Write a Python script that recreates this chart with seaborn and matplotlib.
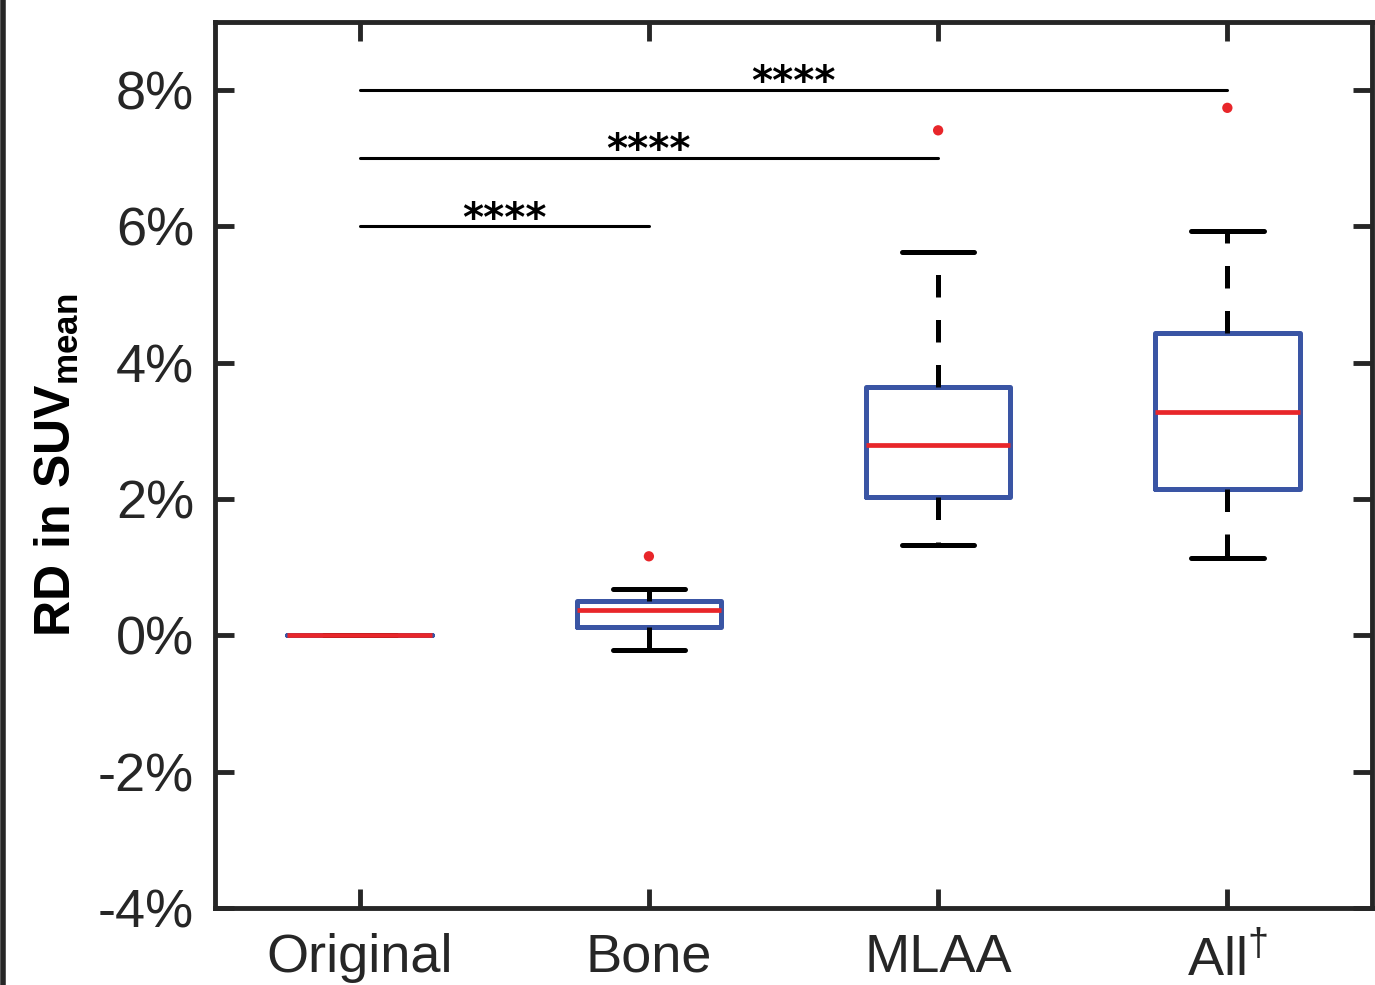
import matplotlib
matplotlib.use("Agg")
import matplotlib.pyplot as plt
from matplotlib.lines import Line2D
import seaborn as sns
import pandas as pd

# ---- data (percent) ----
categories = ["Original", "Bone", "MLAA", "All$^{\\dagger}$"]
q1 = [0.0, 0.12, 2.03, 2.15]
medians = [0.0, 0.37, 2.79, 3.28]
q3 = [0.0, 0.51, 3.65, 4.44]
whisker_low = [0.0, -0.22, 1.32, 1.13]
whisker_high = [0.0, 0.68, 5.63, 5.93]
outlier_group = [2, 3, 4]
outlier_values = [1.16, 7.41, 7.74]
sig_pairs = [(1, 2), (1, 3), (1, 4)]
sig_levels = [6.0, 7.0, 8.0]
sig_labels = ["****", "****", "****"]
yticks = [-4, -2, 0, 2, 4, 6, 8]
ytick_labels = ["-4%", "-2%", "0%", "2%", "4%", "6%", "8%"]

sns.set_style("ticks")
plt.rcParams["font.family"] = ["Liberation Sans", "DejaVu Sans"]
plt.rcParams["mathtext.fontset"] = "custom"
plt.rcParams["mathtext.rm"] = "Liberation Sans"
plt.rcParams["mathtext.bf"] = "Liberation Sans:bold"

DARK = "#262626"
BLUE = "#3a55a4"
RED = "#e8262a"

fig = plt.figure(figsize=(13.75, 9.85), dpi=100)
ax = fig.add_axes([0.1564, 0.0782, 0.8414, 0.8995])

positions = list(range(1, len(categories) + 1))
stats = []
for i in range(len(categories)):
    stats.append(dict(med=medians[i], q1=q1[i], q3=q3[i],
                      whislo=whisker_low[i], whishi=whisker_high[i], fliers=[]))

ax.bxp(stats, positions=positions, widths=0.5, capwidths=0.25, showfliers=False,
       boxprops=dict(color=BLUE, linewidth=3.6),
       whiskerprops=dict(color="black", linewidth=3.6, linestyle=(0, (4.5, 4.5))),
       capprops=dict(color="black", linewidth=3.6),
       medianprops=dict(color=RED, linewidth=3.4, solid_capstyle="butt"))

out_df = pd.DataFrame({"group": outlier_group, "value": outlier_values})
sns.scatterplot(data=out_df, x="group", y="value", ax=ax, color=RED, s=55,
                edgecolor="none", zorder=5)

for (a, b), lvl, lab in zip(sig_pairs, sig_levels, sig_labels):
    ax.plot([a, b], [lvl, lvl], color="black", linewidth=2.2)
    ax.text((a + b) / 2, lvl + 0.1, lab, ha="center", va="center",
            fontsize=29, fontweight="bold", color="black",
            family="DejaVu Sans")

ax.set_xlim(0.5, 4.5)
ax.set_ylim(-4, 9)
ax.set_xticks(positions)
ax.set_xticklabels(categories, fontsize=39, color=DARK)
ax.set_yticks(yticks)
ax.set_yticklabels(ytick_labels, fontsize=39, color=DARK)
ax.set_xlabel("")
ax.set_ylabel(r"$\mathbf{RD\ in\ SUV}_{\mathbf{mean}}$", fontsize=36, color="black",
              labelpad=12)

for s in ax.spines.values():
    s.set_visible(True)
    s.set_linewidth(3.5)
    s.set_color(DARK)
ax.tick_params(axis="both", which="both", direction="in", length=14, width=3.5,
               color=DARK, top=True, right=True)
ax.tick_params(axis="y", pad=15)
ax.tick_params(axis="x", pad=18)

fig.add_artist(Line2D([0.002, 0.002], [0, 1], transform=fig.transFigure,
                      color=DARK, linewidth=4))

fig.savefig("out.png", dpi=100)
